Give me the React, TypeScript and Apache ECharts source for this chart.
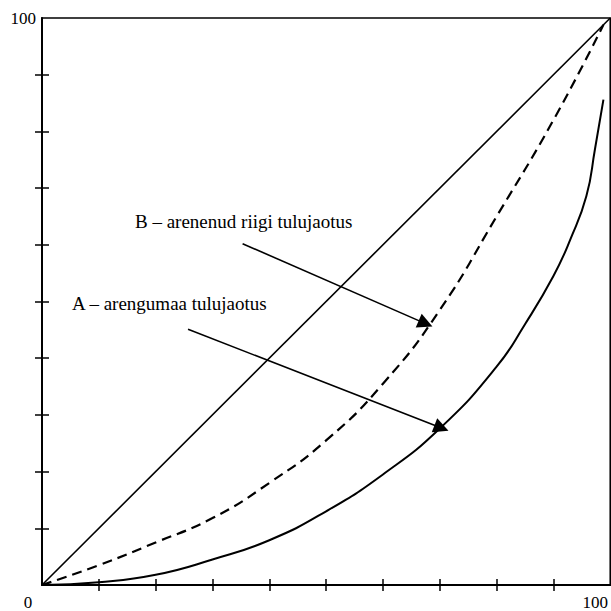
import React, { useEffect, useRef } from "react";
import * as echarts from "echarts";

// Lorenz curves (share of population %, share of income %)
const equalityX = [0, 100];
const equalityY = [0, 100];

const curveBX = [0, 10, 20, 30, 40, 50, 60, 70, 80, 90, 98.8];
const curveBY = [0, 3.5, 7.5, 11.8, 18, 25.5, 35.5, 48.5, 65, 82, 98.8];

const curveAX = [0, 10, 20, 30, 40, 50, 60, 70, 80, 85, 90, 93, 95.8, 97.3, 98.8];
const curveAY = [0, 0.5, 1.8, 4.5, 7.9, 13, 19.5, 27.6, 38.5, 46, 54.5, 61, 68.6, 76.8, 85.6];

const tickValues = [10, 20, 30, 40, 50, 60, 70, 80, 90];
const xTickLabels = ["0", "100"];
const yTickLabels = ["100"];

const labelB = "B – arenenud riigi tulujaotus";
const labelA = "A – arengumaa tulujaotus";
const arrowB = [[35.3, 60.2], [67.5, 46.1]];
const arrowA = [[25.7, 45.1], [70.3, 27.7]];

const FONT = "'Liberation Serif', 'Times New Roman', serif";

const pairs = (xs: number[], ys: number[]) => xs.map((x, i) => [x, ys[i]]);

export default function App() {
  const ref = useRef<HTMLDivElement>(null);
  useEffect(() => {
    if (!ref.current) return;
    const chart = echarts.init(ref.current, null, { renderer: "svg" });
    const baseAxis = {
      type: "value" as const,
      min: 0,
      max: 100,
      interval: 10,
      splitLine: { show: false },
    };
    chart.setOption({
      animation: false,
      backgroundColor: "#fff",
      grid: {
        left: 42,
        top: 18,
        width: 575,
        height: 570,
        show: true,
        borderColor: "#000",
        borderWidth: 1.6,
        backgroundColor: "transparent",
      },
      xAxis: [
        {
          ...baseAxis,
          position: "bottom",
          axisLine: { show: true, lineStyle: { color: "#000", width: 2 } },
          axisTick: { show: true, length: 6, customValues: tickValues, lineStyle: { color: "#000", width: 1.5 } },
          axisLabel: {
            show: true,
            margin: 9,
            showMinLabel: true,
            showMaxLabel: true,
            color: "#000",
            fontFamily: FONT,
            fontSize: 17,
            formatter: (v: number) =>
              v === 0 ? `{o|${xTickLabels[0]}}` : v === 100 ? `{h|${xTickLabels[1]}}` : "",
            rich: {
              o: { fontFamily: FONT, fontSize: 17, color: "#000", padding: [0, 28, 0, 0] },
              h: { fontFamily: FONT, fontSize: 17, color: "#000", padding: [0, 30, 0, 0] },
            },
          },
        },
        {
          ...baseAxis,
          position: "bottom",
          axisLine: { show: false },
          axisTick: { show: true, inside: true, length: 6, customValues: tickValues, lineStyle: { color: "#000", width: 1.5 } },
          axisLabel: { show: false },
        },
      ],
      yAxis: [
        {
          ...baseAxis,
          position: "left",
          axisLine: { show: true, lineStyle: { color: "#000", width: 2 } },
          axisTick: { show: true, length: 7, customValues: tickValues, lineStyle: { color: "#000", width: 1.5 } },
          axisLabel: {
            show: true,
            margin: 6,
            showMaxLabel: true,
            color: "#000",
            fontFamily: FONT,
            fontSize: 17,
            formatter: (v: number) => (v === 100 ? yTickLabels[0] : ""),
          },
        },
        {
          ...baseAxis,
          position: "left",
          axisLine: { show: false },
          axisTick: { show: true, inside: true, length: 7, customValues: tickValues, lineStyle: { color: "#000", width: 1.5 } },
          axisLabel: { show: false },
        },
      ],
      series: [
        {
          type: "line",
          data: pairs(equalityX, equalityY),
          symbol: "none",
          lineStyle: { color: "#000", width: 1.6 },
        },
        {
          type: "line",
          data: pairs(curveBX, curveBY),
          symbol: "none",
          smooth: 0.5,
          lineStyle: { color: "#000", width: 2.2, type: [10, 6] },
        },
        {
          type: "line",
          data: pairs(curveAX, curveAY),
          symbol: "none",
          smooth: 0.5,
          lineStyle: { color: "#000", width: 2 },
        },
        {
          type: "lines",
          coordinateSystem: "cartesian2d",
          symbol: ["none", "triangle"],
          symbolSize: [0, 15],
          lineStyle: { color: "#000", width: 1.6, opacity: 1 },
          itemStyle: { color: "#000" },
          data: [{ coords: arrowB }, { coords: arrowA }],
        },
      ],
      graphic: [
        {
          type: "text",
          x: 135,
          y: 221,
          style: { text: labelB, fontFamily: FONT, fontSize: 19, fill: "#000", verticalAlign: "middle" },
        },
        {
          type: "text",
          x: 72,
          y: 303,
          style: { text: labelA, fontFamily: FONT, fontSize: 19, fill: "#000", verticalAlign: "middle" },
        },
      ],
    });
    return () => chart.dispose();
  }, []);
  return (
    <div
      ref={ref}
      style={{ position: "fixed", left: 0, top: 0, width: 611, height: 611 }}
    />
  );
}
